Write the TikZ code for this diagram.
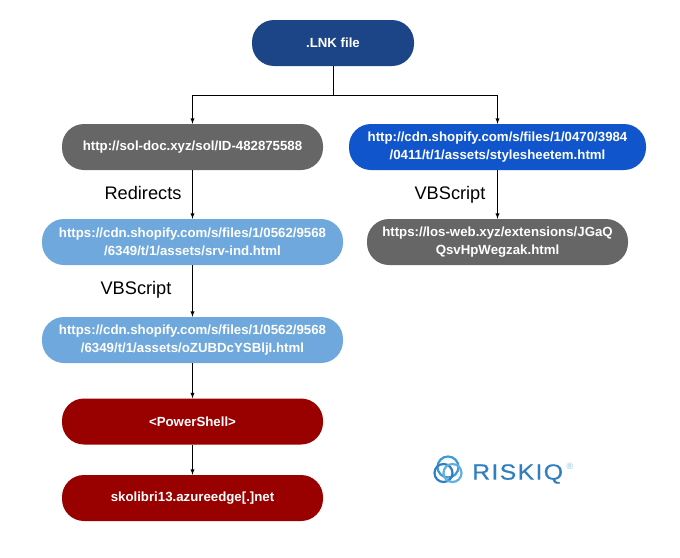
\documentclass[tikz,border=0pt]{standalone}
\usepackage{fontspec}
\setmainfont{Liberation Sans}
\usetikzlibrary{arrows}
\definecolor{lnkblue}{HTML}{1C4587}
\definecolor{urlgray}{HTML}{666666}
\definecolor{urlblue}{HTML}{1155CC}
\definecolor{lightblue}{HTML}{6FA8DC}
\definecolor{darkred}{HTML}{990000}
\definecolor{riskblue}{HTML}{3C9AD6}
\definecolor{riskdark}{HTML}{2F7FBE}

\begin{document}
\begin{tikzpicture}[
x=1pt,y=-1pt,
pillnode/.style={rectangle, rounded corners=22pt, text=white, align=center, inner sep=0pt, minimum height=46pt, font=\fontsize{13.25}{18.5}\selectfont\bfseries},
lnknode/.style={pillnode, fill=lnkblue, minimum width=162pt},
graynode/.style={pillnode, fill=urlgray, minimum width=261pt},
bluenode/.style={pillnode, fill=urlblue, minimum width=297pt},
lightnode/.style={pillnode, fill=lightblue, minimum width=301pt},
rednode/.style={pillnode, fill=darkred, minimum width=261pt},
edgelabel/.style={font=\fontsize{18.2}{20}\selectfont, text=black},
link/.style={-latex, line width=0.9pt}
]
\useasboundingbox (0,0) rectangle (680,557);
%Nodes
\node[lnknode] at (333,43) (lnk) {.LNK file};
\coordinate (split) at (333,95);

\node[graynode] at (192.5,147) (sol) {http://sol-doc.xyz/sol/ID-482875588};
\node[lightnode] at (192.5,242) (srv) {https://cdn.shopify.com/s/files/1/0562/9568\\/6349/t/1/assets/srv-ind.html};
\node[lightnode] at (192.5,340) (ozu) {https://cdn.shopify.com/s/files/1/0562/9568\\/6349/t/1/assets/oZUBDcYSBljI.html};
\node[rednode] at (192.5,421.5) (ps) {<PowerShell>};
\node[rednode] at (192.5,498) (sko) {skolibri13.azureedge[.]net};

\node[bluenode] at (497.5,147) (style) {http://cdn.shopify.com/s/files/1/0470/3984\\/0411/t/1/assets/stylesheetem.html};
\node[graynode] at (497.5,242) (los) {https://los-web.xyz/extensions/JGaQ\\QsvHpWegzak.html};

\node[edgelabel] at (143,192.5) (redirects) {Redirects};
\node[edgelabel] at (136,289.5) (vbleft) {VBScript};
\node[edgelabel] at (450,194.5) (vbright) {VBScript};

%Lines
\draw[line width=0.9pt] (lnk.south) -- (split);
\draw[link] (split) -| (sol.north);
\draw[link] (split) -| (style.north);
\draw[link] (sol.south) -- (srv.north);
\draw[link] (srv.south) -- (ozu.north);
\draw[link] (ozu.south) -- (ps.north);
\draw[link] (ps.south) -- (sko.north);
\draw[link] (style.south) -- (los.north);

%Logo
\draw[riskblue, line width=2.2pt] (448,467) circle [radius=10.5pt];
\draw[riskdark, line width=2.2pt] (443.5,473) circle [radius=9pt];
\draw[riskblue!80!white, line width=2.2pt] (452.5,473) circle [radius=9pt];
\node[anchor=west, inner sep=0pt, text=riskdark, font=\fontsize{22}{24}\selectfont\addfontfeature{FakeStretch=1.13,LetterSpace=6,FakeBold=0.4}] at (472,474) (riskiq) {RISKIQ};
\node[anchor=center, inner sep=0pt, text=riskblue!60!white, font=\fontsize{9}{10}\selectfont] at (570,466) (regmark) {®};
\end{tikzpicture}
\end{document}
